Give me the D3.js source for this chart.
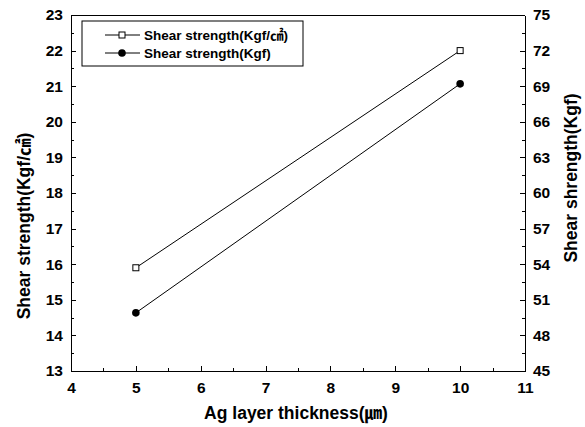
<!DOCTYPE html>
<html><head>
<meta charset="UTF-8">
<title>Shear strength vs Ag layer thickness</title>
<script src="https://d3js.org/d3.v7.min.js"></script>
<style>
  body { margin: 0; background: #fff; }
  text { font-family: "Liberation Sans", Arial, "Noto Sans CJK KR", sans-serif; font-weight: bold; fill: #000; }
  .axis path, .axis line { stroke: #000; stroke-width: 1px; shape-rendering: crispEdges; }
  .line { fill: none; stroke: #000; stroke-width: 1px; }
</style>
</head>
<body>
<script>
// data
var thickness = [5, 10];                 // Ag layer thickness (um)
var strengthArea = [15.9, 22.0];         // Shear strength (Kgf/cm2), left axis
var strengthForce = [49.9, 69.2];        // Shear strength (Kgf), right axis

var xTicks = [4, 5, 6, 7, 8, 9, 10, 11];
var yLeftTicks = [13, 14, 15, 16, 17, 18, 19, 20, 21, 22, 23];
var yRightTicks = [45, 48, 51, 54, 57, 60, 63, 66, 69, 72, 75];

var legendLabels = ["Shear strength(Kgf/\u33A0)", "Shear strength(Kgf)"];

var W = 585, H = 427;
var margin = {top: 15, right: 60, bottom: 56, left: 71};
var width = 525 - margin.left,
    height = 371 - margin.top;

var svg = d3.select("body").append("svg")
    .attr("width", W)
    .attr("height", H);

var g = svg.append("g")
    .attr("transform", "translate(" + margin.left + "," + margin.top + ")");

var x = d3.scaleLinear().domain([4, 11]).range([0, width]);
var yL = d3.scaleLinear().domain([13, 23]).range([height, 0]);
var yR = d3.scaleLinear().domain([45, 75]).range([height, 0]);
var fmt = d3.format("d");

// minor ticks first (inward, short)
g.append("g").attr("class", "axis")
    .attr("transform", "translate(0," + height + ")")
    .call(d3.axisBottom(x).tickValues(d3.range(4.5, 11, 1)).tickSize(-3).tickFormat(""))
    .select(".domain").remove();
g.append("g").attr("class", "axis")
    .call(d3.axisLeft(yL).tickValues(d3.range(13.5, 23, 1)).tickSize(-3).tickFormat(""))
    .select(".domain").remove();
g.append("g").attr("class", "axis")
    .attr("transform", "translate(" + width + ",0)")
    .call(d3.axisRight(yR).tickValues(d3.range(46.5, 75, 3)).tickSize(-3).tickFormat(""))
    .select(".domain").remove();

// major axes
var xAx = g.append("g").attr("class", "axis")
    .attr("transform", "translate(0," + height + ")")
    .call(d3.axisBottom(x).tickValues(xTicks).tickFormat(fmt).tickSize(-5).tickSizeOuter(0).tickPadding(11));
xAx.selectAll("text").style("font-size", "15.5px");

var yAx = g.append("g").attr("class", "axis")
    .call(d3.axisLeft(yL).tickValues(yLeftTicks).tickFormat(fmt).tickSize(-5).tickSizeOuter(0).tickPadding(8));
yAx.selectAll("text").style("font-size", "15.5px");

var yAx2 = g.append("g").attr("class", "axis")
    .attr("transform", "translate(" + width + ",0)")
    .call(d3.axisRight(yR).tickValues(yRightTicks).tickFormat(fmt).tickSize(-5).tickSizeOuter(0).tickPadding(8));
yAx2.selectAll("text").style("font-size", "15.5px");

// top frame line
g.append("line")
    .attr("x1", 0).attr("x2", width)
    .attr("y1", 0).attr("y2", 0)
    .attr("stroke", "#000").attr("shape-rendering", "crispEdges");

// series lines
var lineL = d3.line()
    .x(function(d, i) { return x(thickness[i]); })
    .y(function(d) { return yL(d); });
var lineR = d3.line()
    .x(function(d, i) { return x(thickness[i]); })
    .y(function(d) { return yR(d); });

g.append("path").datum(strengthArea).attr("class", "line").attr("d", lineL);
g.append("path").datum(strengthForce).attr("class", "line").attr("d", lineR);

g.selectAll(".sq").data(strengthArea).enter().append("rect")
    .attr("class", "sq")
    .attr("x", function(d, i) { return x(thickness[i]) - 3; })
    .attr("y", function(d) { return yL(d) - 3; })
    .attr("width", 6).attr("height", 6)
    .attr("fill", "#fff").attr("stroke", "#000");

g.selectAll(".dot").data(strengthForce).enter().append("circle")
    .attr("class", "dot")
    .attr("cx", function(d, i) { return x(thickness[i]); })
    .attr("cy", function(d) { return yR(d); })
    .attr("r", 3.8)
    .attr("fill", "#000");

// legend
var leg = svg.append("g").attr("transform", "translate(82,21)");
leg.append("rect")
    .attr("width", 221).attr("height", 45)
    .attr("fill", "#fff").attr("stroke", "#000");

legendLabels.forEach(function(lbl, i) {
  var ly = 14 + i * 18;
  leg.append("line").attr("x1", 23).attr("x2", 58).attr("y1", ly).attr("y2", ly).attr("stroke", "#000");
  if (i === 0) {
    leg.append("rect").attr("x", 37).attr("y", ly - 3).attr("width", 6).attr("height", 6)
        .attr("fill", "#fff").attr("stroke", "#000");
  } else {
    leg.append("circle").attr("cx", 40).attr("cy", ly).attr("r", 3.8).attr("fill", "#000");
  }
  leg.append("text").attr("x", 62).attr("y", ly + 5)
      .style("font-size", "13.5px").text(lbl);
});

// axis titles
svg.append("text")
    .attr("x", 296).attr("y", 419)
    .attr("text-anchor", "middle")
    .style("font-size", "17.5px")
    .text("Ag layer thickness(\u339B)");

svg.append("text")
    .attr("transform", "translate(30,226) rotate(-90)")
    .attr("text-anchor", "middle")
    .style("font-size", "17.5px")
    .text("Shear strength(Kgf/\u33A0)");

svg.append("text")
    .attr("transform", "translate(577,178) rotate(-90)")
    .attr("text-anchor", "middle")
    .style("font-size", "17.5px")
    .text("Shear shrength(Kgf)");
</script>
</body>
</html>
